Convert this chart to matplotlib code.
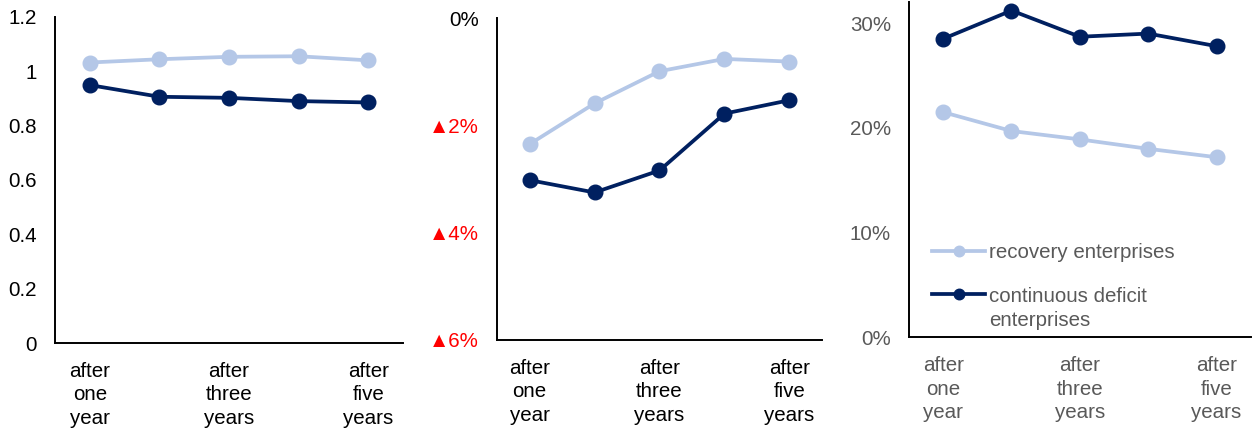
import matplotlib
matplotlib.use('Agg')
import matplotlib.pyplot as plt
import numpy as np

plt.rcParams['font.family'] = ['Liberation Sans', 'DejaVu Sans']

# data
periods = ['after\none\nyear', '', 'after\nthree\nyears', '', 'after\nfive\nyears']
ratio_recovery = [1.032, 1.044, 1.053, 1.055, 1.040]
ratio_deficit = [0.949, 0.906, 0.902, 0.890, 0.885]
growth_recovery = [-2.35, -1.59, -0.99, -0.76, -0.81]
growth_deficit = [-3.02, -3.25, -2.84, -1.78, -1.53]
share_recovery = [21.5, 19.7, 18.9, 18.0, 17.2]
share_deficit = [28.5, 31.2, 28.7, 29.0, 27.8]

growth_ticks = [0, -2, -4, -6]
growth_ticklabels = ['0%', '\u25b22%', '\u25b24%', '\u25b26%']
share_ticks = [0, 10, 20, 30]

LIGHT = '#B4C7E7'
DARK = '#002060'
GREY = '#595959'
FS = 14.8


def style_axes(ax, text_color):
    for side in ['top', 'right']:
        ax.spines[side].set_visible(False)
    for side in ['left', 'bottom']:
        ax.spines[side].set_color('black')
        ax.spines[side].set_linewidth(1.4)
    ax.tick_params(axis='both', length=0, labelsize=FS, colors=text_color)
    ax.tick_params(axis='y', pad=13)
    ax.tick_params(axis='x', pad=13.5)
    ax.set_xlim(-0.5, len(periods) - 0.5)
    ax.set_xticks(range(len(periods)))
    ax.set_xticklabels(periods, linespacing=1.3)


def draw_lines(ax, light_vals, dark_vals, labels=(None, None)):
    x = range(len(light_vals))
    ax.plot(x, light_vals, color=LIGHT, lw=2.7, marker='o', ms=10.5, label=labels[0])
    ax.plot(x, dark_vals, color=DARK, lw=2.7, marker='o', ms=10.5, label=labels[1])


fig = plt.figure(figsize=(12.52, 4.32), dpi=100)

# panel 1: ratio
ax1 = fig.add_axes([0.0439, 0.206, 0.278, 0.755])
draw_lines(ax1, ratio_recovery, ratio_deficit)
ax1.set_ylim(0, 1.2)
ax1.set_yticks([0, 0.2, 0.4, 0.6, 0.8, 1.0, 1.2])
ax1.set_yticklabels(['0', '0.2', '0.4', '0.6', '0.8', '1', '1.2'])
style_axes(ax1, 'black')

# panel 2: growth, negatives shown with a red triangle
ax2 = fig.add_axes([0.397, 0.213, 0.2595, 0.745])
draw_lines(ax2, growth_recovery, growth_deficit)
ax2.set_ylim(-6, 0)
ax2.set_yticks(growth_ticks)
ax2.set_yticklabels(growth_ticklabels)
style_axes(ax2, 'black')
for t in ax2.get_yticklabels():
    t.set_color('black' if t.get_text() == '0%' else '#FF0000')

# panel 3: share
ax3 = fig.add_axes([0.726, 0.219, 0.273, 0.776])
draw_lines(ax3, share_recovery, share_deficit,
           labels=('recovery enterprises', 'continuous deficit'))
ax3.set_ylim(0, 32)
ax3.set_yticks(share_ticks)
ax3.set_yticklabels([f'{v}%' for v in share_ticks])
style_axes(ax3, GREY)

leg = ax3.legend(loc='upper left', bbox_to_anchor=(0.067, 0.282), frameon=False,
                 fontsize=FS, handlelength=2.6, handletextpad=0.2, markerscale=0.72,
                 labelspacing=1.2, borderpad=0, borderaxespad=0)
for t in leg.get_texts():
    t.set_color(GREY)
# second line of the wrapped legend label
ax3.annotate('enterprises', xy=(0, 0), xycoords=leg.get_texts()[1],
             xytext=(0, -5), textcoords='offset pixels', va='top', ha='left',
             fontsize=FS, color=GREY, zorder=10)

fig.savefig('out.png', dpi=100)
